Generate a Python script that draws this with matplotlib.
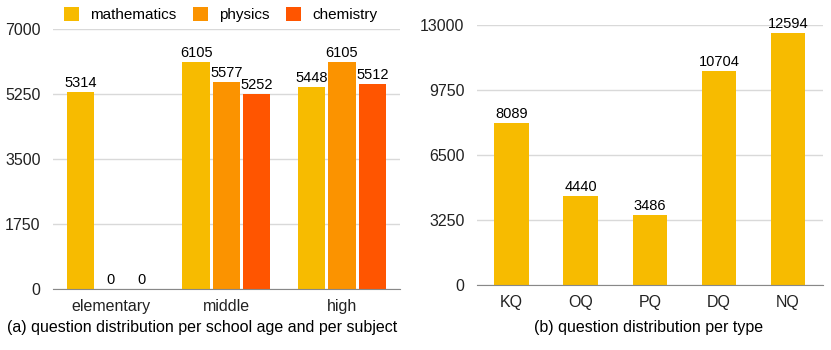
import numpy as np
import matplotlib.pyplot as plt

plt.rcParams['font.family'] = ['Liberation Sans', 'DejaVu Sans']

levels = ['elementary', 'middle', 'high']
subjects = ['mathematics', 'physics', 'chemistry']
mathematics = [5314, 6105, 5448]
physics = [0, 5577, 6105]
chemistry = [0, 5252, 5512]

types = ['KQ', 'OQ', 'PQ', 'DQ', 'NQ']
type_counts = [8089, 4440, 3486, 10704, 12594]

colors = ['#F7BB00', '#FB9300', '#FF5500']
grid_c = '#d9d9d9'


def style(ax, ticks):
    ax.set_yticks(ticks)
    ax.yaxis.grid(True, color=grid_c, lw=1)
    ax.set_axisbelow(True)
    for s in ['top', 'right', 'left']:
        ax.spines[s].set_visible(False)
    ax.spines['bottom'].set_color('#888888')
    ax.tick_params(length=0, labelsize=11.5, colors='#222222')
    ax.tick_params(axis='y', pad=9)
    ax.tick_params(axis='x', pad=7)


fig = plt.figure(figsize=(8.31, 3.5), dpi=100)

# (a)
ax1 = fig.add_axes([0.064, 0.174, 0.417, 0.743])
x = np.arange(len(levels))
step, w = 0.263, 0.235
series = [mathematics, physics, chemistry]
for i, (vals, name) in enumerate(zip(series, subjects)):
    bars = ax1.bar(x + (i - 1) * step, vals, w, color=colors[i], label=name)
    ax1.bar_label(bars, padding=1.5, fontsize=10.5)
ax1.set_xlim(-0.5, 2.5)
ax1.set_ylim(0, 7000)
ax1.set_xticks(x, levels)
style(ax1, [0, 1750, 3500, 5250, 7000])
ax1.legend(loc='lower center', bbox_to_anchor=(0.483, 1.0), ncol=3, frameon=False,
           fontsize=11, handlelength=1.0, handleheight=1.0, columnspacing=1.1,
           handletextpad=0.7, borderaxespad=0.05)
fig.text(0.243, 0.063, '(a) question distribution per school age and per subject',
         ha='center', va='center', fontsize=11.5)

# (b)
ax2 = fig.add_axes([0.574, 0.186, 0.416, 0.743])
x2 = np.arange(len(types))
bars = ax2.bar(x2, type_counts, 0.5, color=colors[0])
ax2.bar_label(bars, padding=1.5, fontsize=10.5)
ax2.set_xlim(-0.5, 4.5)
ax2.set_ylim(0, 13000)
ax2.set_xticks(x2, types)
style(ax2, [0, 3250, 6500, 9750, 13000])
fig.text(0.78, 0.063, '(b) question distribution per type',
         ha='center', va='center', fontsize=11.5)

fig.savefig('out.png', dpi=100)
